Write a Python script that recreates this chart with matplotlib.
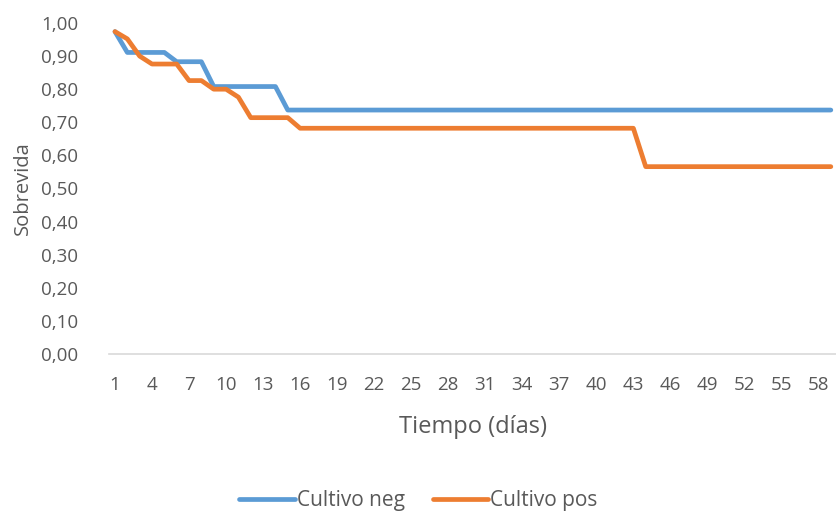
import matplotlib
matplotlib.use("Agg")
import matplotlib.pyplot as plt

# dias 1..59
dias = list(range(1, 60))

# Sobrevida (Kaplan-Meier)
neg = [0.974, 0.911, 0.911, 0.911, 0.911, 0.883, 0.883, 0.883, 0.808, 0.808,
       0.808, 0.808, 0.808, 0.808] + [0.737] * 45
pos = [0.974, 0.952, 0.900, 0.876, 0.876, 0.876, 0.826, 0.826, 0.800, 0.800,
       0.776, 0.714, 0.714, 0.714, 0.714] + [0.682] * 28 + [0.566] * 16

xticks = dias[::3]
gris = "#595959"

plt.rcParams['font.family'] = ['Open Sans', 'DejaVu Sans']

fig = plt.figure(figsize=(8.37, 5.12), dpi=100)
ax = fig.add_axes([0.130, 0.3086, 0.870, 0.6465])

ax.plot(range(len(dias)), neg, color="#5B9BD5", lw=3.4, label="Cultivo neg",
        solid_joinstyle="round", solid_capstyle="round")
ax.plot(range(len(dias)), pos, color="#ED7D31", lw=3.4, label="Cultivo pos",
        solid_joinstyle="round", solid_capstyle="round")

ax.set_xlim(-0.5, len(dias) - 0.5)
ax.set_ylim(0, 1.0)
ax.set_yticks([i / 10 for i in range(11)])
ax.set_yticklabels([f"{i / 10:.2f}".replace(".", ",") for i in range(11)])
ax.set_xticks([d - 1 for d in xticks])
ax.set_xticklabels([str(d) for d in xticks])

for s in ["top", "right", "left"]:
    ax.spines[s].set_visible(False)
ax.spines["bottom"].set_color("#D9D9D9")
ax.spines["bottom"].set_linewidth(1.2)
ax.tick_params(length=0, labelsize=13.5, colors=gris)
ax.tick_params(axis="x", pad=16)
ax.tick_params(axis="y", pad=22)

ax.set_xlabel("Tiempo (días)", fontsize=17, color=gris, labelpad=15)
ax.set_ylabel("Sobrevida", fontsize=14.5, color=gris, labelpad=6)

fig.legend(loc="lower center", bbox_to_anchor=(0.5, -0.035), ncol=2,
           frameon=False, fontsize=15, labelcolor=gris,
           handlelength=2.65, handletextpad=0.1, columnspacing=1.35)

fig.savefig("out.png", dpi=100)
